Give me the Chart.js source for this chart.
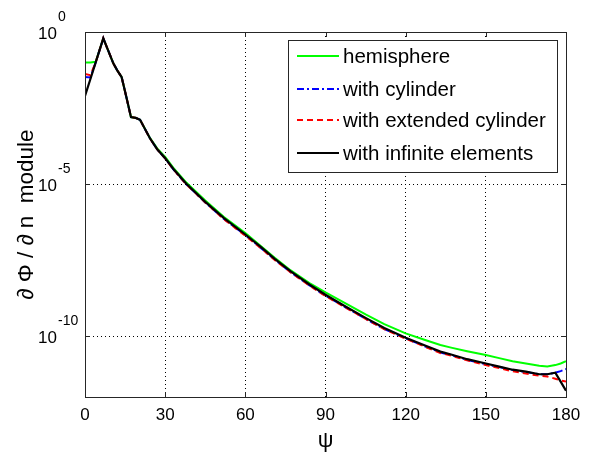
<!DOCTYPE html>
<html>
<head>
<meta charset="utf-8">
<script src="https://cdn.jsdelivr.net/npm/chart.js@4.4.1/dist/chart.umd.min.js"></script>
<style>
  html, body { margin: 0; padding: 0; background: #ffffff; }
  #wrap { width: 590px; height: 459px; }
</style>
</head>
<body>
<div id="wrap"><canvas id="c" width="590" height="459"></canvas></div>
<script>
// Angle psi (degrees) at which the normal derivative was sampled
const psi = [0, 2, 4, 6.85, 8.5, 10.6, 12, 13.7, 15.5, 17.2, 19, 20.6, 24.3, 27, 30, 33, 38, 45, 52, 60,
             66, 71, 77, 84, 90, 97, 105, 112, 120, 127, 133, 137, 143, 150, 155, 160, 165, 170, 173, 176, 178, 180];

// |dPhi/dn| for each truncation of the exterior domain
const hemisphere = [1.0e-1, 1.0e-1, 1.05e-1, 6.2e-1, 2.7e-1, 9.3e-2, 5.6e-2, 3.3e-2, 7.1e-3, 1.6e-3, 1.5e-3, 1.3e-3, 3.3e-4, 1.5e-4, 7.8e-5, 3.5e-5, 1.1e-5, 2.9e-6, 8.3e-7, 2.45e-7,
                    8.9e-8, 3.8e-8, 1.45e-8, 5.6e-9, 2.75e-9, 1.26e-9, 5.2e-10, 2.5e-10, 1.23e-10, 7.6e-11, 5.1e-11, 4.2e-11, 3.2e-11, 2.4e-11, 1.9e-11, 1.5e-11, 1.26e-11, 1.07e-11, 1.0e-11, 1.12e-11, 1.26e-11, 1.5e-11];
const withCylinder = [3.3e-2, 3.2e-2, 1.0e-1, 6.2e-1, 2.7e-1, 9.3e-2, 5.6e-2, 3.3e-2, 7.1e-3, 1.6e-3, 1.5e-3, 1.3e-3, 3.2e-4, 1.4e-4, 7.0e-5, 3.1e-5, 9.7e-6, 2.5e-6, 7.1e-7, 2.1e-7,
                      7.7e-8, 3.3e-8, 1.25e-8, 4.7e-9, 2.15e-9, 9.4e-10, 3.7e-10, 1.7e-10, 8.5e-11, 4.7e-11, 2.9e-11, 2.4e-11, 1.65e-11, 1.2e-11, 9.6e-12, 7.7e-12, 6.6e-12, 5.6e-12, 5.6e-12, 6.3e-12, 7.1e-12, 8.3e-12];
const withExtendedCylinder = [4.2e-2, 3.8e-2, 1.0e-1, 6.2e-1, 2.7e-1, 9.3e-2, 5.6e-2, 3.3e-2, 7.1e-3, 1.6e-3, 1.5e-3, 1.3e-3, 3.2e-4, 1.4e-4, 7.0e-5, 3.1e-5, 9.6e-6, 2.5e-6, 7.0e-7, 2.0e-7,
                              7.6e-8, 3.2e-8, 1.25e-8, 4.6e-9, 2.1e-9, 9.3e-10, 3.7e-10, 1.7e-10, 8.3e-11, 4.6e-11, 2.8e-11, 2.3e-11, 1.6e-11, 1.12e-11, 8.9e-12, 7.0e-12, 5.9e-12, 5.0e-12, 4.7e-12, 4.0e-12, 3.5e-12, 3.2e-12];
const withInfiniteElements = [7.9e-3, 2.8e-2, 1.0e-1, 6.2e-1, 2.7e-1, 9.3e-2, 5.6e-2, 3.3e-2, 7.1e-3, 1.6e-3, 1.5e-3, 1.3e-3, 3.2e-4, 1.4e-4, 7.1e-5, 3.2e-5, 1.0e-5, 2.6e-6, 7.6e-7, 2.2e-7,
                              8.3e-8, 3.5e-8, 1.35e-8, 5.0e-9, 2.3e-9, 1.0e-9, 4.0e-10, 1.85e-10, 8.9e-11, 5.0e-11, 3.1e-11, 2.5e-11, 1.75e-11, 1.26e-11, 1.0e-11, 7.9e-12, 6.8e-12, 5.6e-12, 5.6e-12, 6.3e-12, 3.2e-12, 1.6e-12];

const seriesNames = ['hemisphere', 'with cylinder', 'with extended cylinder', 'with infinite elements'];
const xTicks = [0, 30, 60, 90, 120, 150, 180];
const yTickExponents = [0, -5, -10];

const FONT = '"Liberation Sans", Arial, Helvetica, sans-serif';

const pts = vals => psi.map((x, i) => ({ x: x, y: vals[i] }));

const styles = [
  { color: '#00ff00', dash: [], width: 2 },
  { color: '#0000ff', dash: [7, 3, 2, 3], width: 2 },
  { color: '#ff0000', dash: [6, 4], width: 2 },
  { color: '#000000', dash: [], width: 2.2 }
];
const seriesData = [hemisphere, withCylinder, withExtendedCylinder, withInfiniteElements];

const datasets = seriesData.map((vals, i) => ({
  label: seriesNames[i],
  data: pts(vals),
  borderColor: styles[i].color,
  borderDash: styles[i].dash,
  borderWidth: styles[i].width,
  pointRadius: 0,
  tension: 0,
  fill: false,
  order: 4 - i
}));

// Frame, inward ticks, exponent tick labels, axis titles and boxed legend
const decorations = {
  id: 'decorations',
  afterDatasetsDraw(chart) {
    const ctx = chart.ctx;
    const a = chart.chartArea;
    const xs = chart.scales.x, ys = chart.scales.y;
    ctx.save();
    // plot frame
    ctx.strokeStyle = '#262626';
    ctx.lineWidth = 1;
    ctx.setLineDash([]);
    ctx.strokeRect(Math.round(a.left) + 0.5, Math.round(a.top) + 0.5,
                   Math.round(a.right - a.left), Math.round(a.bottom - a.top));
    // inward tick marks on all four sides
    ctx.beginPath();
    xTicks.forEach(v => {
      const px = Math.round(xs.getPixelForValue(v)) + 0.5;
      ctx.moveTo(px, a.bottom); ctx.lineTo(px, a.bottom - 5);
      ctx.moveTo(px, a.top); ctx.lineTo(px, a.top + 5);
    });
    yTickExponents.forEach(e => {
      const py = Math.round(ys.getPixelForValue(Math.pow(10, e))) + 0.5;
      ctx.moveTo(a.left, py); ctx.lineTo(a.left + 5, py);
      ctx.moveTo(a.right, py); ctx.lineTo(a.right - 5, py);
    });
    ctx.stroke();

    // y tick labels as 10 with superscript exponent
    ctx.fillStyle = '#000000';
    yTickExponents.forEach(e => {
      const py = ys.getPixelForValue(Math.pow(10, e));
      ctx.font = '17px ' + FONT;
      ctx.textAlign = 'right';
      ctx.textBaseline = 'middle';
      ctx.fillText('10', 57, py + 2);
      ctx.font = '14px ' + FONT;
      ctx.textAlign = 'left';
      ctx.fillText(String(e), 58, py - 15);
    });

    // axis titles
    ctx.font = '22px ' + FONT;
    ctx.textAlign = 'center';
    ctx.textBaseline = 'middle';
    ctx.fillText('\u03C8', (a.left + a.right) / 2, 441);
    ctx.save();
    ctx.translate(27, (a.top + a.bottom) / 2);
    ctx.rotate(-Math.PI / 2);
    ctx.font = '22.5px ' + FONT;
    ctx.fillText('\u2202 \u03A6 / \u2202 n  module', 0, 0);
    ctx.restore();

    // legend box
    const bx = 288, by = 40, bw = 269, bh = 132;
    ctx.fillStyle = '#ffffff';
    ctx.fillRect(bx, by, bw, bh);
    ctx.strokeStyle = '#262626';
    ctx.lineWidth = 1;
    ctx.strokeRect(bx + 0.5, by + 0.5, bw, bh);
    const rows = [56, 89, 120, 153];
    ctx.font = '20.5px ' + FONT;
    ctx.textAlign = 'left';
    ctx.textBaseline = 'middle';
    seriesNames.forEach((name, i) => {
      ctx.strokeStyle = styles[i].color;
      ctx.lineWidth = 2;
      ctx.setLineDash(styles[i].dash);
      ctx.beginPath();
      ctx.moveTo(297, rows[i]);
      ctx.lineTo(339, rows[i]);
      ctx.stroke();
      ctx.setLineDash([]);
      ctx.fillStyle = '#000000';
      ctx.fillText(name, 343, rows[i] + 1);
    });
    ctx.restore();
  }
};

new Chart(document.getElementById('c'), {
  type: 'line',
  data: { datasets: datasets },
  options: {
    responsive: false,
    devicePixelRatio: 1,
    animation: false,
    events: [],
    layout: { padding: { top: 32, right: 24, left: 0, bottom: 0 } },
    plugins: { legend: { display: false }, tooltip: { enabled: false } },
    scales: {
      x: {
        type: 'linear',
        min: 0,
        max: 180,
        afterBuildTicks: s => { s.ticks = xTicks.map(v => ({ value: v })); },
        afterFit: s => { s.height = 62; },
        ticks: { color: '#000000', font: { family: FONT, size: 17 }, padding: 8, maxRotation: 0 },
        grid: { color: '#000000', lineWidth: 1, drawTicks: false },
        border: { display: false, dash: [1, 3] }
      },
      y: {
        type: 'logarithmic',
        min: 1e-12,
        max: 1,
        afterBuildTicks: s => { s.ticks = yTickExponents.map(e => ({ value: Math.pow(10, e) })); },
        afterFit: s => { s.width = 85; },
        ticks: { display: false },
        grid: { color: '#000000', lineWidth: 1, drawTicks: false },
        border: { display: false, dash: [1, 3] }
      }
    }
  },
  plugins: [decorations]
});
</script>
</body>
</html>
